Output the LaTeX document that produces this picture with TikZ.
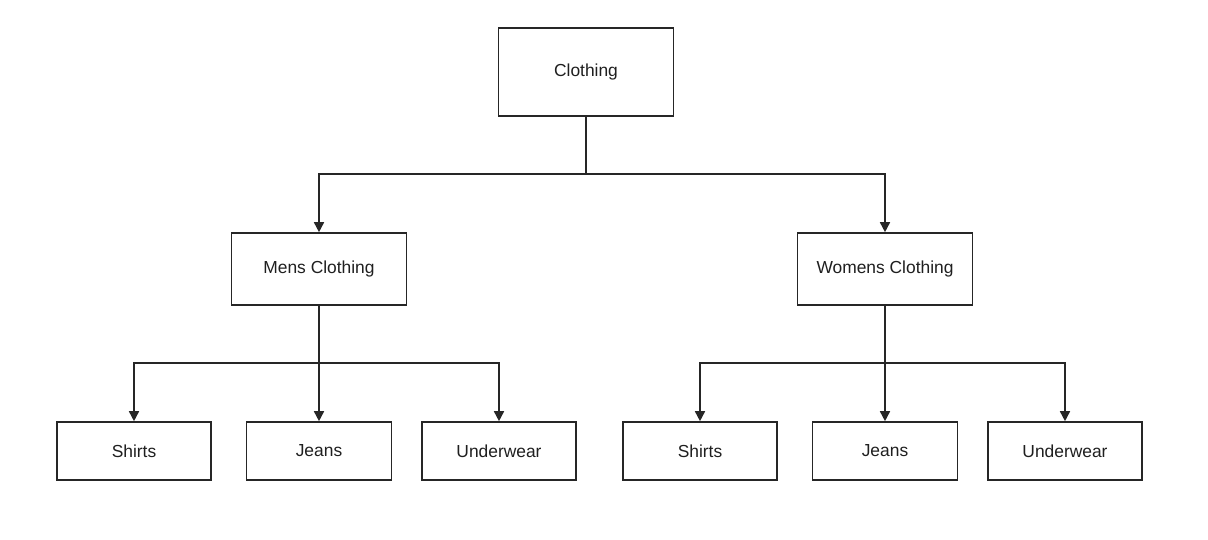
\documentclass[tikz,border=0pt]{standalone}
\usepackage{fontspec}
\setmainfont{Liberation Sans}
\usetikzlibrary{arrows.meta}
\begin{document}
\begin{tikzpicture}[x=1pt,y=-1pt,
  box/.style={draw=black!85, line width=1.6pt, fill=white, inner sep=0pt,
    font=\fontsize{17.4}{20}\selectfont, text=black!88},
  conn/.style={draw=black!85, line width=1.6pt},
  arr/.style={conn, -{Triangle[length=10pt,width=10pt]}}]
\useasboundingbox (0,0) rectangle (1208,540);
\node[box, minimum width=175pt, minimum height=88pt] (c) at (586,72) {Clothing};
\node[box, minimum width=175pt, minimum height=72pt] (m) at (319,269) {Mens Clothing};
\node[box, minimum width=175pt, minimum height=72pt] (w) at (885,269) {Womens Clothing};
\node[box, minimum width=154pt, minimum height=58pt] (ms) at (134,451) {Shirts};
\node[box, minimum width=145pt, minimum height=58pt] (mj) at (319,451) {Jeans};
\node[box, minimum width=154pt, minimum height=58pt] (mu) at (499,451) {Underwear};
\node[box, minimum width=154pt, minimum height=58pt] (ws) at (700,451) {Shirts};
\node[box, minimum width=145pt, minimum height=58pt] (wj) at (885,451) {Jeans};
\node[box, minimum width=154pt, minimum height=58pt] (wu) at (1065,451) {Underwear};
\draw[arr] (c.south) |- (586,174) -| (m.north);
\draw[arr] (c.south) |- (586,174) -| (w.north);
\draw[arr] (m.south) |- (319,363) -| (ms.north);
\draw[arr] (m.south) -- (mj.north);
\draw[arr] (m.south) |- (319,363) -| (mu.north);
\draw[arr] (w.south) |- (885,363) -| (ws.north);
\draw[arr] (w.south) -- (wj.north);
\draw[arr] (w.south) |- (885,363) -| (wu.north);
\end{tikzpicture}
\end{document}
